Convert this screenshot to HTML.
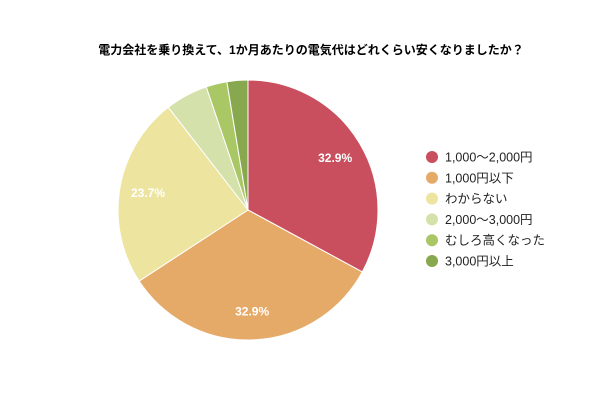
<!DOCTYPE html>
<html><head><meta charset="utf-8"><style>
body{margin:0;width:600px;height:400px;background:#fff;overflow:hidden;font-family:"Liberation Sans","Noto Sans CJK JP",sans-serif}
</style></head><body>
<svg id="chart" width="600" height="400" xmlns="http://www.w3.org/2000/svg">
<text x="311" y="54" text-anchor="middle" font-size="12" font-weight="bold" fill="#000" font-family="Liberation Sans, Noto Sans CJK JP, sans-serif">電力会社を乗り換えて、1か月あたりの電気代はどれくらい安くなりましたか？</text>
<g id="slices"></g><g id="labels"></g><g id="legend"></g>
</svg>
<script>
const categories=["1,000〜2,000円","1,000円以下","わからない","2,000〜3,000円","むしろ高くなった","3,000円以上"];
const values=[32.9,32.9,23.7,5.3,2.6,2.6];
const colors=["#c94f5e","#e6aa68","#ede59f","#d5e1aa","#aac766","#87a84f"];
const NS="http://www.w3.org/2000/svg";
const cx=248,cy=210,r=130;
const total=values.reduce((a,b)=>a+b,0);
const sg=document.getElementById('slices'),lg=document.getElementById('labels'),leg=document.getElementById('legend');
let a=0;
values.forEach((v,i)=>{
  const a0=a/total*2*Math.PI, a1=(a+v)/total*2*Math.PI; a+=v;
  const x0=cx+r*Math.sin(a0),y0=cy-r*Math.cos(a0),x1=cx+r*Math.sin(a1),y1=cy-r*Math.cos(a1);
  const p=document.createElementNS(NS,'path');
  p.setAttribute('d',`M${cx},${cy}L${x0},${y0}A${r},${r} 0 ${a1-a0>Math.PI?1:0} 1 ${x1},${y1}Z`);
  p.setAttribute('fill',colors[i]);p.setAttribute('stroke','#fff');p.setAttribute('stroke-width','1');
  
  
  sg.appendChild(p);
  if(v>10){
    const m=(a0+a1)/2,lr=r*0.78;
    const t=document.createElementNS(NS,'text');
    t.setAttribute('x',cx+lr*Math.sin(m));t.setAttribute('y',cy-lr*Math.cos(m)+4);
    t.setAttribute('text-anchor','middle');t.setAttribute('font-size','12');t.setAttribute('font-weight','bold');t.setAttribute('fill','#fff');
    t.textContent=v.toFixed(1)+'%';
    
    
    lg.appendChild(t);
  }
  const y=157+i*20.8;
  const c=document.createElementNS(NS,'circle');
  c.setAttribute('cx',432);c.setAttribute('cy',y);c.setAttribute('r',6);c.setAttribute('fill',colors[i]);
  
  
  leg.appendChild(c);
  const t=document.createElementNS(NS,'text');
  t.setAttribute('x',445);t.setAttribute('y',y+4.5);t.setAttribute('font-size','12.5');t.setAttribute('fill','#222');
  t.textContent=categories[i];
  
  
  leg.appendChild(t);
});
</script>
</body></html>
